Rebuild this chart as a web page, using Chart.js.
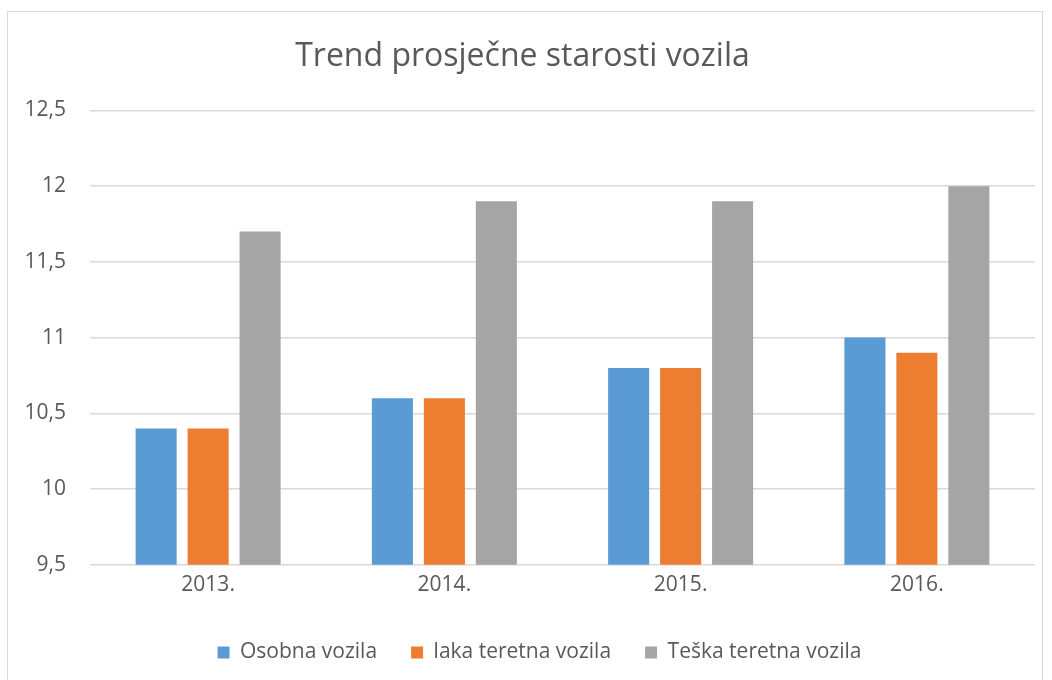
<!DOCTYPE html>
<html>
<head>
<meta charset="utf-8">
<script src="https://cdn.jsdelivr.net/npm/chart.js@4"></script>
<style>
  html, body { margin: 0; padding: 0; background: #fff; }
  #frame {
    position: absolute; left: 7px; top: 11px; width: 1036px; height: 680px;
    border: 1px solid #d9d9d9; box-sizing: border-box;
  }
  #wrap { position: absolute; left: 0; top: 0; width: 1052px; height: 680px; }
</style>
</head>
<body>
<div id="frame"></div>
<div id="wrap"><canvas id="chart" width="1052" height="680"></canvas></div>
<script>
// chart data
const YEARS = ["2013.", "2014.", "2015.", "2016."];
const OSOBNA = [10.4, 10.6, 10.8, 11.0];
const LAKA = [10.4, 10.6, 10.8, 10.9];
const TESKA = [11.7, 11.9, 11.9, 12.0];
const SERIES_NAMES = ["Osobna vozila", "laka teretna vozila", "Teška teretna vozila"];
const COLORS = ["#5B9BD5", "#ED7D31", "#A5A5A5"];

const TXT = "#595959";
const FONT = "'Open Sans', sans-serif";

const sets = [OSOBNA, LAKA, TESKA].map((vals, i) => ({
  label: SERIES_NAMES[i],
  data: vals,
  backgroundColor: COLORS[i],
  borderWidth: 0,
  categoryPercentage: 0.66,
  barPercentage: 0.79,
}));

// nudge the legend a bit right, like the original
const legendShift = {
  id: "legendShift",
  afterLayout(chart) {
    chart.legend.left += 17;
    chart.legend.right += 17;
  },
};

new Chart(document.getElementById("chart"), {
  type: "bar",
  data: { labels: YEARS, datasets: sets },
  plugins: [legendShift],
  options: {
    responsive: false,
    animation: false,
    layout: { padding: { left: 10, right: 17, top: 20, bottom: 7 } },
    plugins: {
      title: {
        display: true,
        text: "Trend prosječne starosti vozila",
        color: TXT,
        font: { family: FONT, size: 32, weight: "normal" },
        padding: { top: 18, bottom: 34 },
      },
      legend: {
        position: "bottom",
        labels: {
          color: TXT,
          font: { family: FONT, size: 21 },
          boxWidth: 12, boxHeight: 12,
          padding: 34,
        },
      },
      tooltip: { enabled: false },
    },
    scales: {
      x: {
        grid: { display: false },
        border: { display: false },
        afterFit: s => { s.height += 10; },
        ticks: { color: TXT, font: { family: FONT, size: 21 }, padding: 0 },
      },
      y: {
        min: 9.5, max: 12.5,
        afterFit: s => { s.width = 80; },
        grid: { color: "#d9d9d9", lineWidth: 1.5, drawTicks: false },
        border: { display: false },
        ticks: {
          stepSize: 0.5,
          color: TXT,
          padding: 24,
          font: { family: FONT, size: 21 },
          callback: v => String(v).replace(".", ","),
        },
      },
    },
  },
});
</script>
</body>
</html>
